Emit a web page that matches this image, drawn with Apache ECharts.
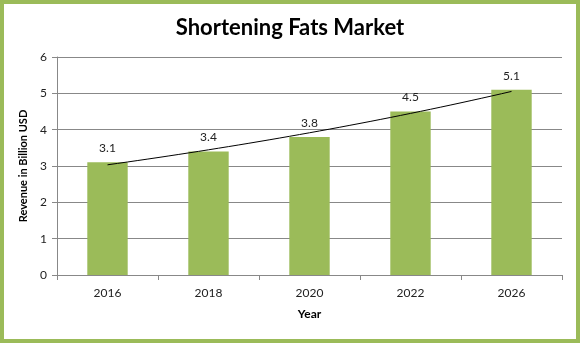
<!DOCTYPE html>
<html>
<head>
<meta charset="utf-8">
<script src="https://cdn.jsdelivr.net/npm/echarts@6/dist/echarts.min.js"></script>
<style>
  html, body { margin: 0; padding: 0; background: #fff; }
  #frame { position: absolute; left: 0; top: 0; width: 572px; height: 335px; border: 4px solid #9BBB59; }
  #chart { position: absolute; left: 0; top: 0; width: 580px; height: 343px; }
</style>
</head>
<body>
<div id="frame"></div>
<div id="chart"></div>
<script>
// Market revenue by year, billion USD
const years = ['2016', '2018', '2020', '2022', '2026'];
const revenue = [3.1, 3.4, 3.8, 4.5, 5.1];
const yTicks = [0, 1, 2, 3, 4, 5, 6];

// Exponential least-squares trendline over category index
function expTrend(vals) {
  const n = vals.length;
  const xs = vals.map((_, i) => i);
  const ls = vals.map(v => Math.log(v));
  const mx = xs.reduce((a, b) => a + b, 0) / n;
  const my = ls.reduce((a, b) => a + b, 0) / n;
  let sxy = 0, sxx = 0;
  for (let i = 0; i < n; i++) { sxy += (xs[i] - mx) * (ls[i] - my); sxx += (xs[i] - mx) ** 2; }
  const b = sxy / sxx, a = my - b * mx;
  const pts = [];
  for (let t = 0; t <= (n - 1) * 10; t++) {
    const x = t / 10;
    pts.push([x, Math.exp(a + b * x)]);
  }
  return pts;
}

const chart = echarts.init(document.getElementById('chart'), null, { renderer: 'canvas' });
const font = 'Lato, "Open Sans", sans-serif';
chart.setOption({
  animation: false,
  title: {
    text: 'Shortening Fats Market',
    left: 'center', top: 12,
    textStyle: { fontFamily: font, fontWeight: 'bold', fontSize: 22, color: '#000' }
  },
  grid: { left: 57, right: 18, top: 57, bottom: 68 },
  xAxis: [{
    type: 'category',
    data: years,
    name: 'Year', nameLocation: 'middle', nameGap: 33,
    nameTextStyle: { fontFamily: font, fontWeight: 'bold', fontSize: 12, color: '#000' },
    axisLine: { lineStyle: { color: '#888' } },
    axisTick: { show: true, length: 5, lineStyle: { color: '#888' } },
    axisLabel: { fontFamily: font, fontSize: 12, color: '#222', margin: 12 }
  }, {
    type: 'value', min: -0.5, max: years.length - 0.5, show: false
  }],
  yAxis: {
    type: 'value', min: yTicks[0], max: yTicks[yTicks.length - 1], interval: 1,
    name: 'Revenue in Billion USD', nameLocation: 'middle', nameGap: 26,
    nameTextStyle: { fontFamily: font, fontWeight: 'bold', fontSize: 11, color: '#000' },
    axisLine: { show: true, onZero: false, lineStyle: { color: '#888' } },
    axisTick: { show: true, length: 5, lineStyle: { color: '#888' } },
    axisLabel: { fontFamily: font, fontSize: 12, color: '#222', margin: 10 },
    splitLine: { lineStyle: { color: '#888' } }
  },
  series: [{
    type: 'bar',
    data: revenue,
    barWidth: '40%',
    itemStyle: { color: '#9BBB59' },
    label: { show: true, position: 'top', distance: 8, fontFamily: font, fontSize: 12, color: '#222' }
  }, {
    type: 'line',
    xAxisIndex: 1,
    data: expTrend(revenue),
    symbol: 'none',
    lineStyle: { color: '#000', width: 1 },
    z: 5
  }]
});
</script>
</body>
</html>
